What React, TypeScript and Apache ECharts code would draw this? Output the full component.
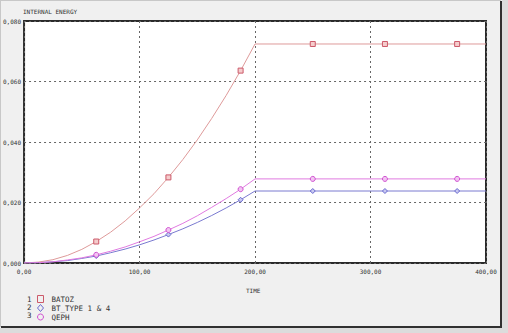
import React, { useEffect, useRef } from "react";
import * as echarts from "echarts";

const time = [0, 12.5, 25, 37.5, 50, 62.5, 75, 87.5, 100, 112.5, 125, 137.5, 150, 162.5, 175, 187.5, 200, 250, 312.5, 375, 400];
const batoz = [0, 0.0003, 0.0011, 0.0025, 0.0045, 0.0071, 0.0102, 0.0139, 0.0182, 0.0229, 0.0283, 0.0342, 0.0407, 0.0478, 0.0554, 0.0636, 0.0724, 0.0724, 0.0724, 0.0724, 0.0724];
const btType = [0, 0.0001, 0.0004, 0.0008, 0.0015, 0.0023, 0.0034, 0.0046, 0.006, 0.0076, 0.0094, 0.0113, 0.0134, 0.0157, 0.0182, 0.0209, 0.0238, 0.0238, 0.0238, 0.0238, 0.0238];
const qeph = [0, 0.0001, 0.0004, 0.001, 0.0017, 0.0027, 0.0039, 0.0053, 0.007, 0.0088, 0.0109, 0.0131, 0.0156, 0.0184, 0.0213, 0.0244, 0.0278, 0.0278, 0.0278, 0.0278, 0.0278];
const markerTimes = [62.5, 125, 187.5, 250, 312.5, 375];
const seriesNames = ["BATOZ", "BT_TYPE 1 & 4", "QEPH"];
const xTicks = [0, 100, 200, 300, 400];
const yTicks = [0, 0.02, 0.04, 0.06, 0.08];

const MONO = "DejaVu Sans Mono";

function build(values: number[], symbol: string) {
  return time.map((t, i) => ({
    value: [t, values[i]],
    symbol: markerTimes.includes(t) ? symbol : "none",
  }));
}

export default function App() {
  const ref = useRef<HTMLDivElement>(null);
  useEffect(() => {
    if (!ref.current) return;
    const chart = echarts.init(ref.current, undefined, { renderer: "svg" });
    const specs = [
      { name: seriesNames[0], data: batoz, symbol: "rect", line: "#de9a9a", border: "#cc5a6a", fill: "#f5cccc", size: 5 },
      { name: seriesNames[1], data: btType, symbol: "diamond", line: "#7a7ad0", border: "#6a6ad0", fill: "#c8c8f0", size: 5 },
      { name: seriesNames[2], data: qeph, symbol: "circle", line: "#e07ae0", border: "#d050d0", fill: "#f2c4f2", size: 5 },
    ];
    chart.setOption({
      animation: false,
      backgroundColor: "#f0f0f0",
      textStyle: { fontFamily: MONO },
      grid: {
        left: 24,
        right: 22,
        top: 21,
        bottom: 70,
        show: true,
        backgroundColor: "#ffffff",
        borderColor: "#2a2a2a",
        borderWidth: 2,
        z: 0,
      },
      xAxis: {
        type: "value",
        min: xTicks[0],
        max: xTicks[xTicks.length - 1],
        interval: 100,
        axisLine: { show: false },
        axisTick: { show: false },
        axisLabel: {
          fontFamily: MONO,
          fontSize: 6,
          color: "#333",
          margin: 5,
          formatter: (v: number) => v.toFixed(2).replace(".", ","),
        },
        splitLine: { show: true, lineStyle: { color: "#666", width: 1, type: [2, 3] } },
      },
      yAxis: {
        type: "value",
        min: yTicks[0],
        max: yTicks[yTicks.length - 1],
        interval: 0.02,
        axisLine: { show: false },
        axisTick: { show: false },
        axisLabel: {
          fontFamily: MONO,
          fontSize: 6,
          color: "#333",
          margin: 3,
          formatter: (v: number) => v.toFixed(3).replace(".", ","),
        },
        splitLine: { show: true, lineStyle: { color: "#666", width: 1, type: [2, 3] } },
      },
      legend: {
        orient: "vertical",
        left: 37,
        top: 295,
        itemWidth: 6,
        itemHeight: 7,
        itemGap: 1,
        textStyle: { fontFamily: MONO, fontSize: 7.5, color: "#333", padding: [0, 0, 0, 3] },
        padding: 0,
        data: specs.map((s) => ({
          name: s.name,
          icon: s.symbol,
          itemStyle: { color: "transparent", borderColor: s.border, borderWidth: 1 },
        })),
      },
      graphic: [
        { type: "text", left: 23, top: 8, style: { text: "INTERNAL ENERGY", font: `6px ${MONO}`, fill: "#333" } },
        { type: "text", left: 246, top: 287, style: { text: "TIME", font: `6px ${MONO}`, fill: "#333" } },
        { type: "text", left: 27, top: 295, style: { text: "1", font: `7.5px ${MONO}`, fill: "#333" } },
        { type: "text", left: 27, top: 303, style: { text: "2", font: `7.5px ${MONO}`, fill: "#333" } },
        { type: "text", left: 27, top: 311, style: { text: "3", font: `7.5px ${MONO}`, fill: "#333" } },
        { type: "line", shape: { x1: 0.5, y1: 0, x2: 0.5, y2: 327 }, style: { stroke: "#c8c8c8", lineWidth: 1 } },
        { type: "line", shape: { x1: 0, y1: 0.5, x2: 501, y2: 0.5 }, style: { stroke: "#c8c8c8", lineWidth: 1 } },
        { type: "line", shape: { x1: 501, y1: 1, x2: 501, y2: 327 }, style: { stroke: "#303030", lineWidth: 2 } },
        { type: "line", shape: { x1: 1, y1: 327, x2: 502, y2: 327 }, style: { stroke: "#303030", lineWidth: 2 } },
        { type: "rect", shape: { x: 502, y: 0, width: 6, height: 333 }, style: { fill: "#dcdcdc" } },
        { type: "rect", shape: { x: 0, y: 328, width: 502, height: 5 }, style: { fill: "#dcdcdc" } },
      ],
      series: specs.map((s) => ({
        name: s.name,
        type: "line",
        data: build(s.data, s.symbol),
        showSymbol: true,
        symbolSize: s.size,
        lineStyle: { color: s.line, width: 1 },
        itemStyle: { color: s.fill, borderColor: s.border, borderWidth: 1 },
        z: 3,
      })),
    });
    return () => chart.dispose();
  }, []);
  return <div ref={ref} style={{ position: "fixed", left: 0, top: 0, width: 508, height: 333 }} />;
}
